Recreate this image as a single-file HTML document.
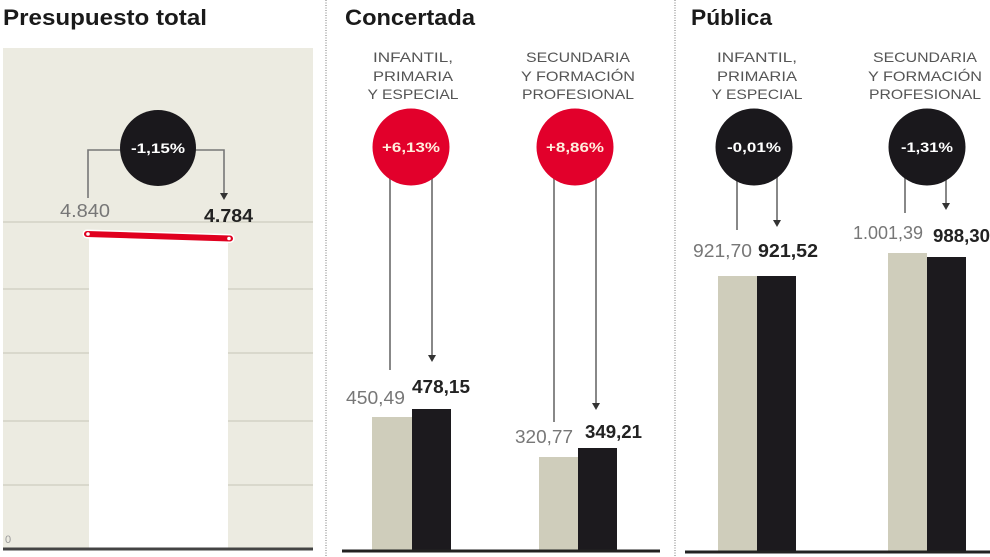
<!DOCTYPE html>
<html><head><meta charset="utf-8">
<style>
html,body{margin:0;padding:0;background:#fff;}
svg{display:block;}
text{font-family:"Liberation Sans",Arial,sans-serif;}
</style></head>
<body>
<svg width="990" height="557" viewBox="0 0 990 557" xmlns="http://www.w3.org/2000/svg">
<rect width="990" height="557" fill="#fff"/>
<!-- Titles -->
<text x="3" y="25" font-size="22" font-weight="bold" fill="#1a1a1a" textLength="204" lengthAdjust="spacingAndGlyphs">Presupuesto total</text>
<text x="345" y="25" font-size="22" font-weight="bold" fill="#1a1a1a" textLength="130" lengthAdjust="spacingAndGlyphs">Concertada</text>
<text x="691" y="25" font-size="22" font-weight="bold" fill="#1a1a1a" textLength="81" lengthAdjust="spacingAndGlyphs">Pública</text>

<!-- Separators -->
<line x1="326" y1="0" x2="326" y2="557" stroke="#bbb" stroke-width="2" stroke-dasharray="1,1.5"/>
<line x1="675" y1="0" x2="675" y2="557" stroke="#bbb" stroke-width="2" stroke-dasharray="1,1.5"/>

<!-- Panel 1 -->
<rect x="3" y="48" width="310" height="501" fill="#ecebe1"/>
<g stroke="#d9d8cc" stroke-width="2">
<line x1="3" y1="222" x2="313" y2="222"/>
<line x1="3" y1="289" x2="313" y2="289"/>
<line x1="3" y1="353" x2="313" y2="353"/>
<line x1="3" y1="421" x2="313" y2="421"/>
<line x1="3" y1="485" x2="313" y2="485"/>
</g>
<rect x="89" y="238" width="139" height="311" fill="#fff"/>
<line x1="3" y1="549" x2="313" y2="549" stroke="#444" stroke-width="3"/>
<text x="5" y="543" font-size="11" fill="#999">0</text>
<line x1="87" y1="234" x2="230" y2="238.5" stroke="#fff" stroke-width="9" stroke-linecap="round"/>
<line x1="87" y1="234" x2="230" y2="238.5" stroke="#e0001f" stroke-width="6" stroke-linecap="round"/>
<circle cx="88" cy="234" r="1.8" fill="#fff"/>
<circle cx="229" cy="238.5" r="1.8" fill="#fff"/>
<g stroke="#777" stroke-width="1.6" fill="none">
<polyline points="88,198 88,150 224,150 224,193"/>
</g>
<polygon points="220,193 228,193 224,200" fill="#333"/>
<circle cx="158" cy="148" r="38" fill="#1a181c"/>
<text x="158" y="153" font-size="14" font-weight="bold" fill="#fff" text-anchor="middle" textLength="54" lengthAdjust="spacingAndGlyphs">-1,15%</text>
<text x="60" y="217" font-size="18" fill="#777" textLength="50" lengthAdjust="spacingAndGlyphs">4.840</text>
<text x="204" y="222" font-size="18" font-weight="bold" fill="#222" textLength="49" lengthAdjust="spacingAndGlyphs">4.784</text>

<!-- Category labels -->
<g font-size="14" fill="#555" text-anchor="middle">
<text x="413" y="62" textLength="80" lengthAdjust="spacingAndGlyphs">INFANTIL,</text>
<text x="413" y="81" textLength="80" lengthAdjust="spacingAndGlyphs">PRIMARIA</text>
<text x="413" y="99" textLength="91" lengthAdjust="spacingAndGlyphs">Y ESPECIAL</text>
<text x="578" y="62" textLength="104" lengthAdjust="spacingAndGlyphs">SECUNDARIA</text>
<text x="578" y="81" textLength="114" lengthAdjust="spacingAndGlyphs">Y FORMACIÓN</text>
<text x="578" y="99" textLength="112" lengthAdjust="spacingAndGlyphs">PROFESIONAL</text>
<text x="757" y="62" textLength="80" lengthAdjust="spacingAndGlyphs">INFANTIL,</text>
<text x="757" y="81" textLength="80" lengthAdjust="spacingAndGlyphs">PRIMARIA</text>
<text x="757" y="99" textLength="91" lengthAdjust="spacingAndGlyphs">Y ESPECIAL</text>
<text x="925" y="62" textLength="104" lengthAdjust="spacingAndGlyphs">SECUNDARIA</text>
<text x="925" y="81" textLength="114" lengthAdjust="spacingAndGlyphs">Y FORMACIÓN</text>
<text x="925" y="99" textLength="112" lengthAdjust="spacingAndGlyphs">PROFESIONAL</text>
</g>

<!-- Concertada connectors -->
<g stroke="#888" stroke-width="2">
<line x1="390" y1="175" x2="390" y2="370"/>
<line x1="432" y1="175" x2="432" y2="355"/>
<line x1="554" y1="175" x2="554" y2="422"/>
<line x1="596" y1="175" x2="596" y2="403"/>
<line x1="737" y1="175" x2="737" y2="230"/>
<line x1="777" y1="175" x2="777" y2="220"/>
<line x1="905" y1="175" x2="905" y2="213"/>
<line x1="946" y1="175" x2="946" y2="203"/>
</g>
<g fill="#333">
<polygon points="428,355 436,355 432,362"/>
<polygon points="592,403 600,403 596,410"/>
<polygon points="773,220 781,220 777,227"/>
<polygon points="942,203 950,203 946,210"/>
</g>

<!-- Circles -->
<circle cx="411" cy="147" r="38.5" fill="#e2002b"/>
<circle cx="575" cy="147" r="38.5" fill="#e2002b"/>
<circle cx="754" cy="147" r="38.5" fill="#1a181c"/>
<circle cx="927" cy="147" r="38.5" fill="#1a181c"/>
<g font-size="14" font-weight="bold" text-anchor="middle">
<text x="411" y="152" fill="#ffeedd" textLength="58" lengthAdjust="spacingAndGlyphs">+6,13%</text>
<text x="575" y="152" fill="#ffeedd" textLength="58" lengthAdjust="spacingAndGlyphs">+8,86%</text>
<text x="754" y="152" fill="#fff" textLength="54" lengthAdjust="spacingAndGlyphs">-0,01%</text>
<text x="927" y="152" fill="#fff" textLength="52" lengthAdjust="spacingAndGlyphs">-1,31%</text>
</g>

<!-- Concertada bars -->
<rect x="372" y="417" width="40" height="134" fill="#cfcdbb"/>
<rect x="412" y="409" width="39" height="142" fill="#1c1a1e"/>
<rect x="539" y="457" width="39" height="94" fill="#cfcdbb"/>
<rect x="578" y="448" width="39" height="103" fill="#1c1a1e"/>
<line x1="342" y1="551" x2="660" y2="551" stroke="#222" stroke-width="3"/>

<!-- Pública bars -->
<rect x="718" y="276" width="39" height="276" fill="#cfcdbb"/>
<rect x="757" y="276" width="39" height="276" fill="#1c1a1e"/>
<rect x="888" y="253" width="39" height="299" fill="#cfcdbb"/>
<rect x="927" y="257" width="39" height="295" fill="#1c1a1e"/>
<line x1="685" y1="552" x2="990" y2="552" stroke="#222" stroke-width="3"/>

<!-- Value labels -->
<g font-size="18">
<text x="346" y="404" fill="#777" textLength="59" lengthAdjust="spacingAndGlyphs">450,49</text>
<text x="412" y="393" fill="#222" font-weight="bold" textLength="58" lengthAdjust="spacingAndGlyphs">478,15</text>
<text x="515" y="443" fill="#777" textLength="58" lengthAdjust="spacingAndGlyphs">320,77</text>
<text x="585" y="438" fill="#222" font-weight="bold" textLength="57" lengthAdjust="spacingAndGlyphs">349,21</text>
<text x="693" y="257" fill="#777" textLength="59" lengthAdjust="spacingAndGlyphs">921,70</text>
<text x="758" y="257" fill="#222" font-weight="bold" textLength="60" lengthAdjust="spacingAndGlyphs">921,52</text>
<text x="853" y="239" fill="#777" textLength="70" lengthAdjust="spacingAndGlyphs">1.001,39</text>
<text x="933" y="242" fill="#222" font-weight="bold" textLength="57" lengthAdjust="spacingAndGlyphs">988,30</text>
</g>
</svg>
</body></html>
